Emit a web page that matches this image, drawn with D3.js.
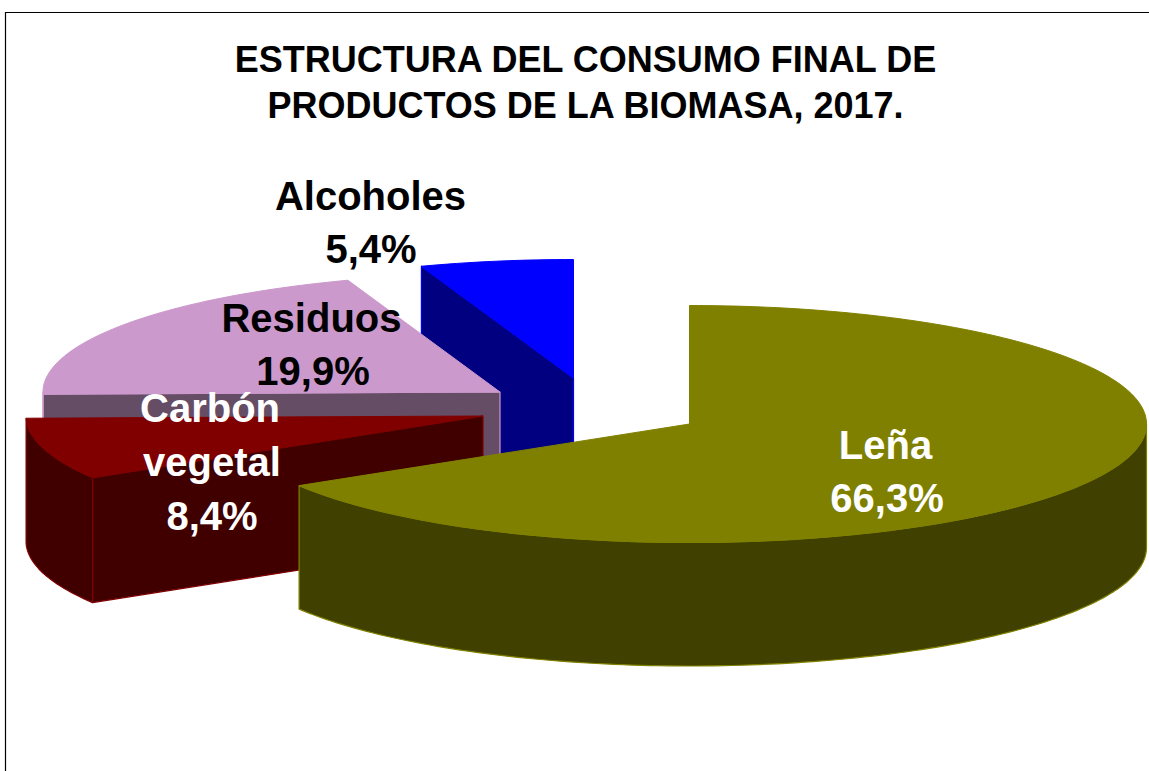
<!DOCTYPE html>
<html><head><meta charset="utf-8">
<style>html,body{margin:0;padding:0;background:#fff}svg{display:block}text{font-family:"Liberation Sans",Arial,sans-serif;font-weight:bold;text-anchor:middle}</style>
<script src="https://cdn.jsdelivr.net/npm/d3@7"></script>
</head><body><svg id="c" width="1149" height="771"></svg>
<script>
const titleLines = ["ESTRUCTURA DEL CONSUMO FINAL DE", "PRODUCTOS DE LA BIOMASA, 2017."];
const categories = ["Leña", "Carbón vegetal", "Residuos", "Alcoholes"];
const shares = [66.3, 8.4, 19.9, 5.4];
const topColors = ["#808000", "#800000", "#cc99cc", "#0000ff"];
const sideColors = ["#404000", "#400000", "#664d66", "#000080"];
const labelColors = ["#ffffff", "#ffffff", "#000000", "#000000"];

const RX = 457, RY = 118.5;
const layout = [
  {cx:689.5, cy:424, depth:123.5, label:[[885.5,459],[887,512]]},
  {cx:483, cy:416, depth:125, label:[[210,422],[212,476],[212,530]]},
  {cx:500, cy:392, depth:123.5, label:[[311.5,332],[313,385]]},
  {cx:573.5, cy:378, depth:135, label:[[370.5,210],[371,263]]}
];

const svg = d3.select("#c");
svg.append("path").attr("d", d3.line()([[1149,12.5],[5.5,12.5],[5.5,771]]))
  .attr("fill","none").attr("stroke","#000").attr("stroke-width",1.2);

const arcs = d3.pie().sort(null).value(d=>d)(shares);
const unitX = d3.scaleLinear().domain([-1,1]);
const unitY = d3.scaleLinear().domain([-1,1]);
const line = d3.line();

function rimPts(a0,a1,L,dz){
  const n = Math.max(2,Math.ceil(Math.abs(a1-a0)/0.02));
  const x = unitX.copy().range([L.cx-RX,L.cx+RX]);
  const y = unitY.copy().range([L.cy+dz-RY,L.cy+dz+RY]);
  return d3.range(n+1).map(i=>{
    const t = a0+(a1-a0)*i/n;
    return [x(Math.sin(t)), y(-Math.cos(t))];
  });
}

// back to front
[3,2,1,0].forEach(i=>{
  const a = arcs[i], L = layout[i], D = L.depth;
  const g = svg.append("g");
  const tip=[L.cx,L.cy], tipB=[L.cx,L.cy+D];
  const style = s=>s.attr("fill",sideColors[i]).attr("stroke",topColors[i]).attr("stroke-width",1.2).attr("stroke-linejoin","round");
  // cut faces that look toward the viewer
  if(Math.sin(a.startAngle)<-1e-6){
    const p = rimPts(a.startAngle,a.startAngle,L,0)[0], q=[p[0],p[1]+D];
    style(g.append("path")).attr("d",line([tip,p,q,tipB])+"Z");
  }
  if(Math.sin(a.endAngle)>1e-6){
    const p = rimPts(a.endAngle,a.endAngle,L,0)[0], q=[p[0],p[1]+D];
    style(g.append("path")).attr("d",line([tip,p,q,tipB])+"Z");
  }
  // visible outer wall
  const a0=Math.max(a.startAngle,Math.PI/2), a1=Math.min(a.endAngle,1.5*Math.PI);
  if(a1>a0){
    const upper=rimPts(a0,a1,L,0), lower=rimPts(a1,a0,L,D);
    style(g.append("path")).attr("d",line(upper.concat(lower))+"Z");
  }
  // top
  g.append("path").attr("d",line([tip].concat(rimPts(a.startAngle,a.endAngle,L,0)))+"Z")
    .attr("fill",topColors[i]).attr("stroke",topColors[i]).attr("stroke-width",1);
});

const titleY=[72,118];
svg.selectAll("text.t").data(titleLines).join("text").attr("class","t")
  .attr("x",585.5).attr("y",(d,i)=>titleY[i]).attr("font-size",36).attr("fill","#000").text(d=>d);

const fmt = v=>v.toFixed(1).replace(".",",")+"%";
categories.forEach((c,i)=>{
  const lines = (i===1? c.split(" "):[c]).concat(fmt(shares[i]));
  lines.forEach((s,j)=>{
    svg.append("text").attr("x",layout[i].label[j][0]).attr("y",layout[i].label[j][1])
      .attr("font-size",40).attr("fill",labelColors[i]).text(s);
  });
});
</script></body></html>
